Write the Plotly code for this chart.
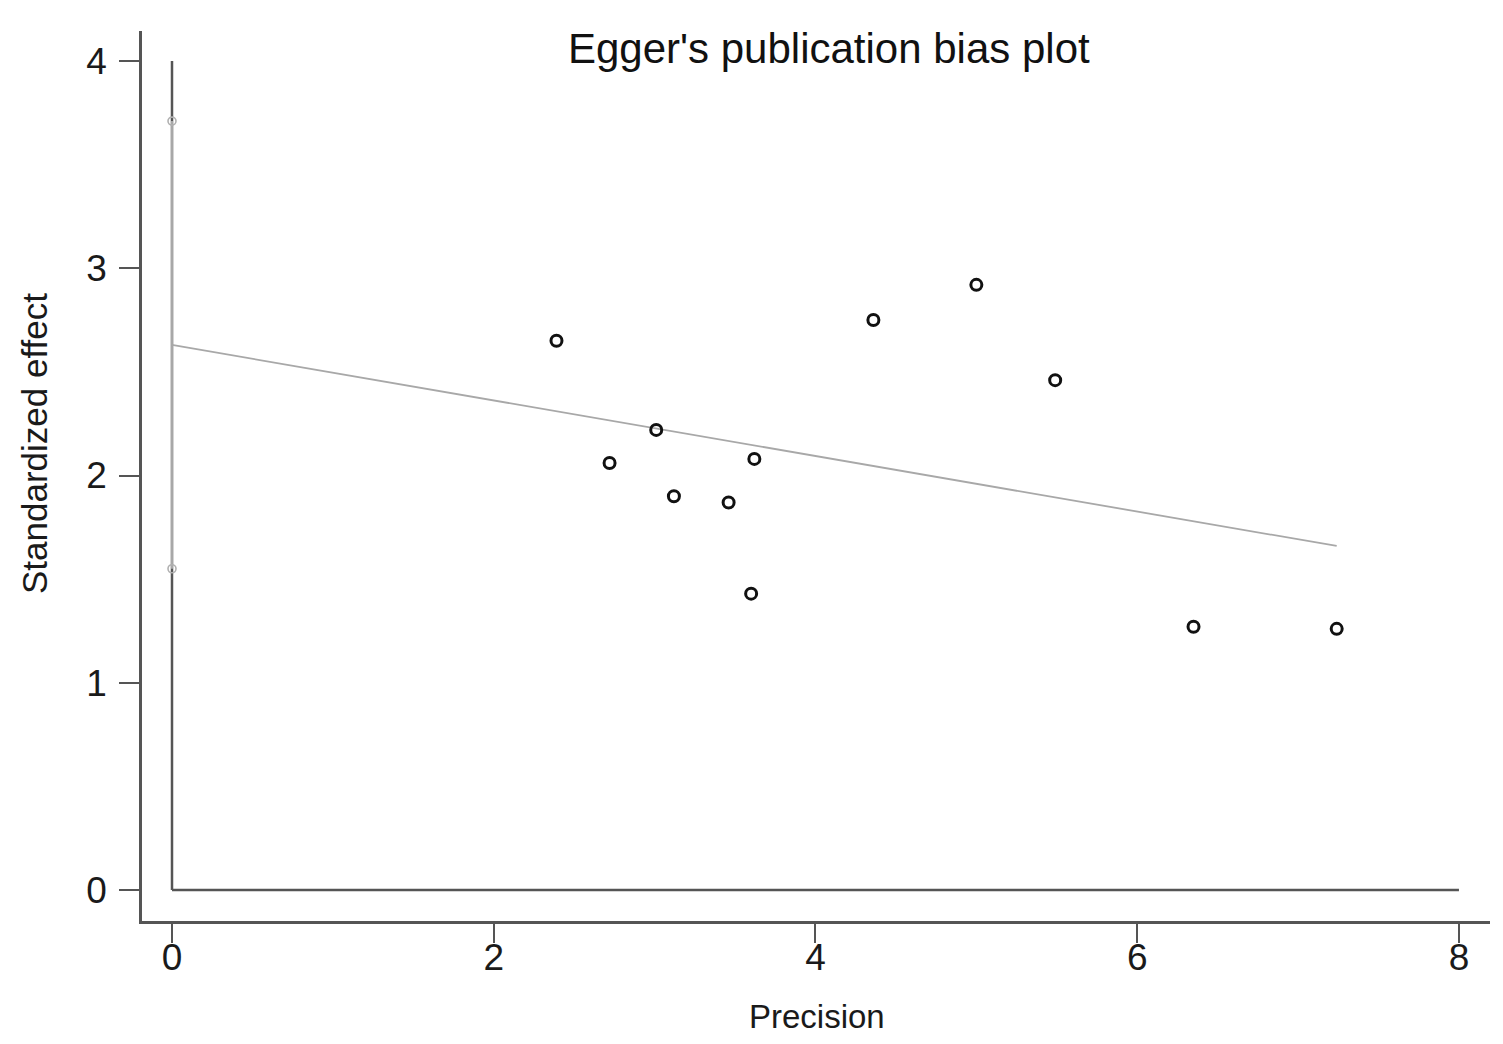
import plotly.graph_objects as go

# Data
precision = [2.39, 2.72, 3.01, 3.12, 3.46, 3.62, 3.60, 4.36, 5.00, 5.49, 6.35, 7.24]
std_effect = [2.65, 2.06, 2.22, 1.90, 1.87, 2.08, 1.43, 2.75, 2.92, 2.46, 1.27, 1.26]
reg_x = [0.0, 7.24]
reg_y = [2.63, 1.66]
ci_x = [0.0, 0.0]
ci_y = [1.55, 3.71]
ref_v_x = [0, 0]
ref_v_y = [0, 4]
ref_h_x = [0, 8]
ref_h_y = [0, 0]
x_ticks = [0, 2, 4, 6, 8]
y_ticks = [0, 1, 2, 3, 4]

axis_col = "#555555"
font_fam = "Liberation Sans, Arial, sans-serif"

# page has an 8px body margin; figure sized to fit the viewport
W, H = 1495, 1036
L, R, T, B = 134, 13, 23, 123
PW, PH = W - L - R, H - T - B


def px_to_paper(xp, yp):
    return (xp - 8 - L) / PW, 1 - (yp - 8 - T) / PH


fig = go.Figure()
fig.add_trace(go.Scatter(x=ref_v_x, y=ref_v_y, mode="lines",
                         line=dict(color=axis_col, width=2.5), hoverinfo="skip"))
fig.add_trace(go.Scatter(x=ref_h_x, y=ref_h_y, mode="lines",
                         line=dict(color=axis_col, width=2.5), hoverinfo="skip"))
fig.add_trace(go.Scatter(x=ci_x, y=ci_y, mode="lines+markers",
                         line=dict(color="#bdbdbd", width=1.6),
                         marker=dict(symbol="circle-open", size=8, color="#b0b0b0",
                                     line=dict(width=1.6))))
fig.add_trace(go.Scatter(x=reg_x, y=reg_y, mode="lines",
                         line=dict(color="#a8a8a8", width=1.8)))
fig.add_trace(go.Scatter(x=precision, y=std_effect, mode="markers",
                         marker=dict(symbol="circle-open", size=11, color="#111111",
                                     line=dict(width=3, color="#111111"))))

tickfont = dict(family=font_fam, size=37, color="#1a1a1a")
fig.update_layout(
    template="none",
    width=W, height=H,
    paper_bgcolor="white", plot_bgcolor="white",
    showlegend=False,
    margin=dict(l=L, r=R, t=T, b=B, pad=0),
    font=dict(family=font_fam, color="#1a1a1a"),
    xaxis=dict(range=[-0.1865, 8.193], tickvals=x_ticks, ticks="outside", ticklen=19,
               tickwidth=2, tickcolor=axis_col, showline=True, linecolor=axis_col,
               linewidth=2.5, showgrid=False, zeroline=False, tickfont=tickfont,
               automargin=False, ticklabelstandoff=-17),
    yaxis=dict(range=[-0.1496, 4.1448], tickvals=y_ticks, ticks="outside", ticklen=20,
               tickwidth=2, tickcolor=axis_col, showline=True, linecolor=axis_col,
               linewidth=2.5, showgrid=False, zeroline=False, tickfont=tickfont,
               automargin=False, ticklabelstandoff=5),
)

tx, ty = px_to_paper(828.5, 49)
fig.add_annotation(text="Egger's publication bias plot", xref="paper", yref="paper",
                   x=tx, y=ty, xanchor="center", yanchor="middle", showarrow=False,
                   font=dict(family=font_fam, size=42, color="#111111"))
xx, xy = px_to_paper(817, 1016.5)
fig.add_annotation(text="Precision", xref="paper", yref="paper",
                   x=xx, y=xy, xanchor="center", yanchor="middle", showarrow=False,
                   font=dict(family=font_fam, size=33, color="#1a1a1a"))
yx, yy = px_to_paper(34, 444)
fig.add_annotation(text="Standardized effect", xref="paper", yref="paper", textangle=-90,
                   x=yx, y=yy, xanchor="center", yanchor="middle", showarrow=False,
                   font=dict(family=font_fam, size=35, color="#1a1a1a"))
fig.write_html("out.html")
